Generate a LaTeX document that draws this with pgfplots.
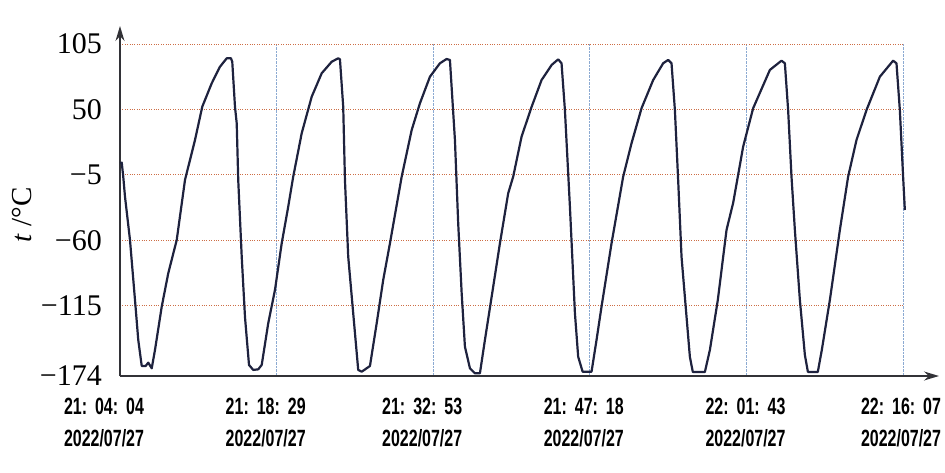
\documentclass[border=0pt]{standalone}
\usepackage{pgfplots}
\pgfplotsset{compat=1.18}
\usepackage{fontspec}
\usepackage{graphicx}
\setmainfont{Liberation Serif}
\newfontfamily\tickfont{Liberation Sans}
\usetikzlibrary{arrows.meta}
\definecolor{curve}{RGB}{30,34,62}
\definecolor{hgrid}{RGB}{205,110,70}
\definecolor{vgrid}{RGB}{140,170,210}
\definecolor{axcol}{RGB}{50,50,55}
\newcommand\xl[3]{\makebox[0pt]{\hspace*{#1}\scalebox{0.68}[1]{\tickfont\bfseries\fontsize{23.5}{32}\selectfont\begin{tabular}{@{}c@{}}#2\\#3\end{tabular}}}}
\begin{document}
\begin{tikzpicture}
\useasboundingbox (-120pt,-96pt) rectangle (825pt,376pt);
\begin{axis}[
  scale only axis, width=783pt, height=332pt,
  xmin=0, xmax=72.05, ymin=-174, ymax=105,
  clip=false,
  axis x line=bottom, axis y line=left,
  x axis line style={draw=axcol, line width=1.3pt, -{Stealth[length=15pt,width=9pt]}, shorten >=-36pt},
  y axis line style={draw=axcol, line width=1.3pt, -{Stealth[length=15pt,width=9pt]}, shorten >=-18pt},
  major tick length=0pt,
  xtick={0,14.42,28.82,43.23,57.65,72.05},
  xticklabels={{\xl{-32pt}{21:\,\,\,04:\,\,\,04}{2022/07/27}},
               {\xl{-22pt}{21:\,\,\,18:\,\,\,29}{2022/07/27}},
               {\xl{-22pt}{21:\,\,\,32:\,\,\,53}{2022/07/27}},
               {\xl{-12pt}{21:\,\,\,47:\,\,\,18}{2022/07/27}},
               {\xl{-2pt}{22:\,\,\,01:\,\,\,43}{2022/07/27}},
               {\xl{-4pt}{22:\,\,\,16:\,\,\,07}{2022/07/27}}},
  xticklabel style={anchor=north, inner sep=0pt, yshift=-15.6pt},
  ytick={-174,-115,-60,-5,50,105},
  yticklabels={−174,−115,−60,−5,50,105},
  yticklabel style={anchor=east, inner sep=0pt, xshift=-18pt, font=\fontsize{30}{30}\selectfont},
  xmajorgrids, ymajorgrids,
  x grid style={densely dotted, draw=vgrid, line width=0.8pt},
  y grid style={dotted, draw=hgrid, line width=0.9pt},
]
\node[rotate=90, anchor=center, inner sep=0pt, font=\fontsize{29}{29}\selectfont] at (axis description cs:-0.125,0.485) {\textit{t} /°C};
\addplot[curve, line width=2.2pt, line join=round] coordinates {
(0,5) (0.16,5.3) (0.30,-6.5) (0.46,-23.3) (0.92,-59.7) (1.38,-110.1) (1.68,-143.7)
(2.00,-165.6) (2.36,-165.6) (2.60,-162.8) (2.92,-167.5) (3.22,-152.1) (3.84,-115.7)
(4.44,-87.7) (5.22,-59.7) (5.98,-9.3) (6.90,24.3) (7.57,52.3) (8.44,72.0) (9.20,85.9)
(9.82,93.0) (10.21,93.0) (10.33,90.1) (10.58,52.3) (10.74,38.4) (10.88,-9.3)
(11.20,-73.7) (11.50,-124.2) (11.87,-164.7) (12.26,-168.9) (12.72,-168.4) (13.04,-164.7)
(13.64,-129.7) (14.26,-101.7) (14.88,-62.5) (15.48,-31.7) (15.94,-6.5) (16.72,30.0)
(17.64,60.7) (18.56,80.4) (19.48,90.1) (20.08,93.0) (20.24,92.1) (20.54,52.3)
(20.70,-9.3) (21.00,-73.7) (21.46,-121.3) (21.92,-168.9) (22.24,-170.4) (23.00,-165.6)
(23.62,-129.7) (24.22,-93.3) (24.84,-62.5) (25.92,-6.5) (26.84,32.7) (27.60,55.2)
(28.52,77.5) (29.44,88.8) (30.05,92.4) (30.36,91.6) (30.82,24.3) (31.12,-45.7)
(31.44,-104.5) (31.74,-149.4) (32.20,-167.5) (32.66,-171.7) (33.12,-171.7) (33.58,-143.7)
(34.20,-107.3) (34.96,-62.5) (35.72,-20.5) (36.18,-6.5) (36.95,27.1) (37.88,52.3)
(38.79,74.7) (39.72,87.4) (40.32,92.1) (40.63,88.8) (40.94,49.5) (41.40,-31.7)
(41.86,-121.0) (42.16,-157.8) (42.57,-170.4) (43.39,-170.4) (43.85,-143.7) (44.31,-115.7)
(45.23,-62.5) (46.30,-6.5) (47.07,21.6) (47.99,51.0) (49.06,74.7) (49.98,88.8)
(50.44,91.6) (50.75,88.8) (51.06,49.5) (51.36,-9.3) (51.67,-73.7) (52.13,-124.2)
(52.44,-158.0) (52.71,-170.6) (53.82,-170.6) (54.28,-152.1) (55.01,-110.1) (55.81,-51.3)
(56.42,-28.6) (57.34,18.7) (58.26,51.0) (59.80,83.2) (60.87,91.0) (61.18,88.8)
(61.48,49.5) (61.79,-6.5) (62.10,-51.3) (62.56,-110.1) (63.02,-156.3) (63.30,-170.6)
(64.21,-170.6) (64.58,-152.1) (65.32,-110.1) (66.24,-51.3) (67.00,-6.5) (67.77,24.3)
(68.69,49.5) (69.92,77.5) (71.14,91.0) (71.45,88.8) (71.76,49.5) (72.06,-6.5) (72.22,-34.5)
};
\end{axis}
\end{tikzpicture}
\end{document}
